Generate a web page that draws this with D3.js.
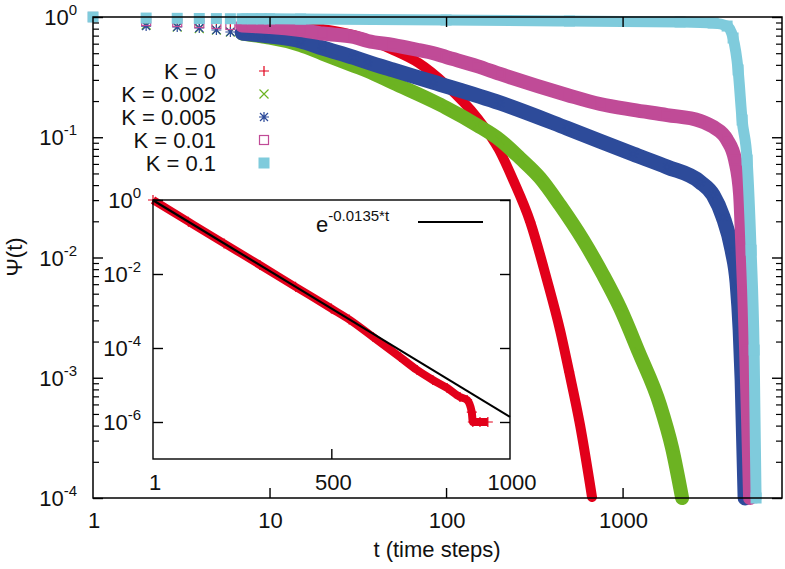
<!DOCTYPE html>
<html><head><meta charset="utf-8">
<script src="https://cdn.jsdelivr.net/npm/d3@7/dist/d3.min.js"></script>
<style>
body{margin:0;background:#fff}
svg{display:block}
text{font-family:"Liberation Sans",Arial,Helvetica,sans-serif;fill:#111}
</style>
</head><body>
<svg id="chart" width="785" height="569"></svg>
<script>
// ---------------- DATA ----------------
const seriesLabels = ["K = 0", "K = 0.002", "K = 0.005", "K = 0.01", "K = 0.1"];

const tK0   = [1,2,3,4,5,6,7,8,9,10,15,20,30,50,70,100,150,200,240,300,373,442,498,574,671];
const psiK0 = [1,0.962,0.944,0.926,0.909,0.900,0.890,0.883,0.879,0.875,0.841,0.795,0.708,0.532,0.414,0.272,0.145,0.0783,0.0441,0.0197,0.0065,0.0025,0.00112,0.000405,0.000102];

const tK002   = [1,2,3,4,5,6,7,8,9,10,15,20,30,36,50,84,100,150,202,262,341,442,597,776,968,1233,1630,1908,2174];
const psiK002 = [1,0.858,0.826,0.802,0.780,0.750,0.728,0.708,0.690,0.675,0.585,0.496,0.394,0.356,0.284,0.200,0.176,0.126,0.0949,0.0672,0.0458,0.0273,0.0140,0.00715,0.00380,0.00164,0.000593,0.000260,0.0001];

const tK005   = [1,2,3,4,5,6,7,8,9,10,15,20,30,36,50,84,202,485,1147,1787,2748,3258,3710,4172,4454,4634,4755,4944];
const psiK005 = [1,0.841,0.826,0.810,0.780,0.750,0.736,0.722,0.708,0.695,0.632,0.552,0.461,0.422,0.363,0.288,0.193,0.119,0.0725,0.0566,0.0425,0.0331,0.0217,0.0115,0.00614,0.00250,0.000958,0.0001];

const tK01   = [1,2,3,4,5,6,7,8,9,10,15,20,30,36,50,70,84,100,150,202,485,746,1147,1787,2748,3258,3910,4339,4634,4755,4881,5010,5140,5275];
const psiK01 = [1,0.926,0.909,0.891,0.875,0.858,0.850,0.841,0.833,0.826,0.780,0.729,0.682,0.632,0.585,0.531,0.502,0.465,0.391,0.336,0.225,0.189,0.169,0.153,0.137,0.122,0.0949,0.0647,0.0331,0.0140,0.00537,0.00170,0.000445,0.0001];

const tK1   = [1,2,3,4,5,6,7,8,9,10,15,100,500,2118,3258,3910,4227,4512,4755,5075,5346,5560,5705];
const psiK1 = [1,0.98,0.975,0.972,0.97,0.968,0.967,0.966,0.966,0.965,0.962,0.944,0.926,0.909,0.891,0.841,0.669,0.363,0.139,0.0646,0.0115,0.0017,0.0001];

// inset: K = 0 on a linear time axis, with the exponential fit
const tInset   = [1,100,200,300,400,500,550,617,692,740,784,824,860,880,893,896,916,938];
const psiInset = [1,0.26,0.067,0.0175,0.0045,0.00117,0.00059,0.000198,0.0000571,0.0000254,0.0000137,0.0000083,0.00000474,0.00000394,0.00000186,0.000001,0.000001,0.000001];
const fitRate = 0.0135;
const tFit = [1, 1000];
const fitLabel = "-0.0135*t";

const xTicksMain = [1, 10, 100, 1000];
const yExpMain = [0, -1, -2, -3, -4];
const xTicksInset = [1, 500, 1000];
const yExpInset = [0, -2, -4, -6];

// ---------------- STYLE ----------------
const colors = ["#e2001a", "#6cb322", "#2d4b9a", "#c04b97", "#7fcbdc"];
const markerTypes = ["plus", "cross", "star", "osquare", "fsquare"];
const bandWidth = [10, 14, 15, 14, 11];
const bandStart = 7;
const FS = 22, FSS = 15;

const svg = d3.select("#chart");
const M = {left: 93, right: 782, top: 17, bottom: 498};
const x = d3.scaleLog().domain([1, 8000]).range([M.left, M.right]);
const y = d3.scaleLog().domain([1e-4, 1]).range([M.bottom, M.top]);

function marker(g, type, cx, cy, color) {
  if (type === "plus") {
    const s = 5;
    g.append("path").attr("d", `M${cx-s},${cy}H${cx+s}M${cx},${cy-s}V${cy+s}`)
      .attr("stroke", color).attr("stroke-width", 1.2).attr("fill", "none");
  } else if (type === "cross") {
    const s = 4.5;
    g.append("path").attr("d", `M${cx-s},${cy-s}L${cx+s},${cy+s}M${cx-s},${cy+s}L${cx+s},${cy-s}`)
      .attr("stroke", color).attr("stroke-width", 1.2).attr("fill", "none");
  } else if (type === "star") {
    const s = 5, q = 4;
    g.append("path").attr("d", `M${cx-s},${cy}H${cx+s}M${cx},${cy-s}V${cy+s}M${cx-q},${cy-q}L${cx+q},${cy+q}M${cx-q},${cy+q}L${cx+q},${cy-q}`)
      .attr("stroke", color).attr("stroke-width", 1.2).attr("fill", "none");
  } else if (type === "osquare") {
    const s = 4.5;
    g.append("rect").attr("x", cx-s).attr("y", cy-s).attr("width", 2*s).attr("height", 2*s)
      .attr("stroke", color).attr("stroke-width", 1.2).attr("fill", "none");
  } else {
    const s = 5.5;
    g.append("rect").attr("x", cx-s).attr("y", cy-s).attr("width", 2*s).attr("height", 2*s)
      .attr("fill", color);
  }
}

const series = [
  {t: tK0, p: psiK0}, {t: tK002, p: psiK002}, {t: tK005, p: psiK005},
  {t: tK01, p: psiK01}, {t: tK1, p: psiK1}
].map((s, i) => ({
  label: seriesLabels[i],
  data: s.t.map((t, j) => ({t, psi: s.p[j]})),
  color: colors[i], type: markerTypes[i], bw: bandWidth[i]
}));

const line = d3.line().x(d => x(d.t)).y(d => y(d.psi)).curve(d3.curveMonotoneX);

// data
const gData = svg.append("g");
series.forEach(s => {
  const g = gData.append("g");
  g.append("path").datum(s.data.filter(d => d.t >= bandStart))
    .attr("d", line).attr("fill", "none").attr("stroke", s.color)
    .attr("stroke-width", s.bw).attr("stroke-linecap", "round").attr("stroke-linejoin", "round");
  s.data.forEach(d => marker(g, s.type, x(d.t), y(d.psi), s.color));
});

// frame & axes
svg.append("rect").attr("x", M.left).attr("y", M.top).attr("width", M.right - M.left)
  .attr("height", M.bottom - M.top).attr("fill", "none").attr("stroke", "#000").attr("stroke-width", 1.5);

const xMajor = xTicksMain.filter(v => v > 1);
svg.append("g").attr("transform", `translate(0,${M.bottom})`)
  .call(d3.axisBottom(x).tickValues(xMajor).tickSize(-10).tickFormat(""))
  .call(g => { g.select(".domain").remove(); g.selectAll("line").attr("stroke-width", 1.4); });
svg.append("g").attr("transform", `translate(0,${M.top})`)
  .call(d3.axisTop(x).tickValues(xMajor).tickSize(-10).tickFormat(""))
  .call(g => { g.select(".domain").remove(); g.selectAll("line").attr("stroke-width", 1.4); });

const yMajorVals = yExpMain.map(e => Math.pow(10, e));
const yMinorVals = [];
for (let e = -4; e < 0; e++) for (let m = 2; m <= 9; m++) yMinorVals.push(m * Math.pow(10, e));
[[d3.axisLeft, M.left], [d3.axisRight, M.right]].forEach(([ax, pos]) => {
  svg.append("g").attr("transform", `translate(${pos},0)`)
    .call(ax(y).tickValues(yMajorVals).tickSize(-10).tickFormat(""))
    .call(g => { g.select(".domain").remove(); g.selectAll("line").attr("stroke-width", 1.4); });
  svg.append("g").attr("transform", `translate(${pos},0)`)
    .call(ax(y).tickValues(yMinorVals).tickSize(-6).tickFormat(""))
    .call(g => { g.select(".domain").remove(); g.selectAll("line").attr("stroke-width", 1.2); });
});

// tick labels
xTicksMain.forEach(v => {
  svg.append("text").attr("x", x(v) + 1).attr("y", M.bottom + 30)
    .attr("text-anchor", "middle").attr("font-size", FS).text(v);
});
yExpMain.forEach(e => {
  const t = svg.append("text").attr("x", 77).attr("y", y(Math.pow(10, e)) + 8)
    .attr("text-anchor", "end").attr("font-size", FS);
  t.append("tspan").text("10");
  t.append("tspan").attr("dy", -10).attr("font-size", FSS).text(e);
});

svg.append("text").attr("x", 437).attr("y", 557).attr("text-anchor", "middle")
  .attr("font-size", FS).text("t (time steps)");
svg.append("text").attr("transform", "translate(22,257) rotate(-90)")
  .attr("text-anchor", "middle").attr("font-size", FS).text("Ψ(t)");

// legend
const legY0 = 71, legDY = 23;
series.forEach((s, i) => {
  svg.append("text").attr("x", 216).attr("y", legY0 + i * legDY + 8)
    .attr("text-anchor", "end").attr("font-size", FS).text(s.label);
  marker(svg.append("g"), s.type, 264, legY0 + i * legDY, s.color);
});

// ---------------- INSET ----------------
const I = {left: 153, right: 510, top: 200, bottom: 459};
const xi = d3.scaleLinear().domain([1, 1000]).range([I.left, I.right]);
const yi = d3.scaleLog().domain([1e-7, 1]).range([I.bottom, I.top]);
const gi = svg.append("g");
gi.append("rect").attr("x", I.left).attr("y", I.top).attr("width", I.right - I.left)
  .attr("height", I.bottom - I.top).attr("fill", "#fff");

const insetData = tInset.map((t, j) => ({t, psi: psiInset[j]}));
const lineI = d3.line().x(d => xi(d.t)).y(d => yi(d.psi)).curve(d3.curveMonotoneX);
gi.append("path").datum(insetData).attr("d", lineI).attr("fill", "none")
  .attr("stroke", colors[0]).attr("stroke-width", 8).attr("stroke-linejoin", "round");
insetData.forEach(d => marker(gi, "plus", xi(d.t), yi(d.psi), colors[0]));
// fit line
const fitData = tFit.map(t => ({t, psi: Math.exp(-fitRate * t)}));
gi.append("path").datum(fitData).attr("d", d3.line().x(d => xi(d.t)).y(d => yi(d.psi)))
  .attr("fill", "none").attr("stroke", "#000").attr("stroke-width", 2.2);

gi.append("rect").attr("x", I.left).attr("y", I.top).attr("width", I.right - I.left)
  .attr("height", I.bottom - I.top).attr("fill", "none").attr("stroke", "#000").attr("stroke-width", 1.4);
const yiMajor = yExpInset.map(e => Math.pow(10, e));
[[d3.axisLeft, I.left], [d3.axisRight, I.right]].forEach(([ax, pos]) => {
  gi.append("g").attr("transform", `translate(${pos},0)`)
    .call(ax(yi).tickValues(yiMajor).tickSize(-10).tickFormat(""))
    .call(g => { g.select(".domain").remove(); g.selectAll("line").attr("stroke-width", 1.4); });
});
gi.append("g").attr("transform", `translate(0,${I.bottom})`)
  .call(d3.axisBottom(xi).tickValues([500]).tickSize(-10).tickFormat(""))
  .call(g => { g.select(".domain").remove(); g.selectAll("line").attr("stroke-width", 1.4); });

xTicksInset.forEach(v => {
  gi.append("text").attr("x", xi(v) + 2).attr("y", I.bottom + 31)
    .attr("text-anchor", "middle").attr("font-size", FS).text(v);
});
yExpInset.forEach(e => {
  const t = gi.append("text").attr("x", 141).attr("y", yi(Math.pow(10, e)) + 8)
    .attr("text-anchor", "end").attr("font-size", FS);
  t.append("tspan").text("10");
  t.append("tspan").attr("dy", -10).attr("font-size", FSS).text(e);
});

// inset key
const kt = gi.append("text").attr("x", 316).attr("y", 232).attr("font-size", FS);
kt.append("tspan").text("e");
kt.append("tspan").attr("dy", -11).attr("font-size", FSS).text(fitLabel);
gi.append("line").attr("x1", 418).attr("x2", 483).attr("y1", 222).attr("y2", 222)
  .attr("stroke", "#000").attr("stroke-width", 2.2);
</script>
</body></html>
